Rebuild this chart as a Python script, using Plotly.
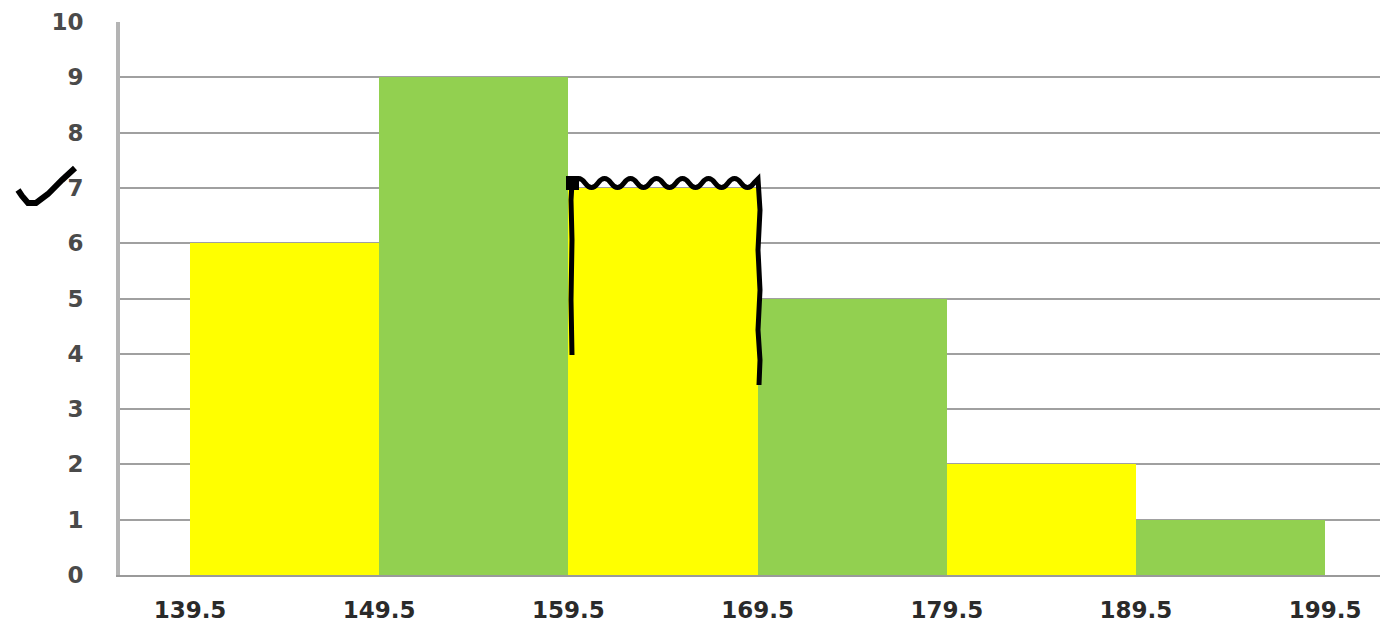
import plotly.graph_objects as go

# ---- data ----
bin_left = [139.5, 149.5, 159.5, 169.5, 179.5, 189.5]
counts = [6, 9, 7, 5, 2, 1]
bin_width = 10
tick_vals = [139.5, 149.5, 159.5, 169.5, 179.5, 189.5, 199.5]
tick_text = ["139.5", "149.5", "159.5", "169.5", "179.5", "189.5", "199.5"]
y_ticks = list(range(0, 11))

YELLOW = "#ffff00"
GREEN = "#92d050"
bar_colors = [YELLOW if i % 2 == 0 else GREEN for i in range(len(counts))]

W, H = 1393, 629
OFF = 8  # page body margin
# plot area in screen pixels
PL, PR, PT, PB = 120, 1380, 22, 575
ML, MT = PL - OFF, PT - OFF
MR = W - PR + OFF
MB = H - PB + OFF

fig = go.Figure()
fig.add_trace(go.Bar(
    x=bin_left, y=counts, width=bin_width, offset=0,
    marker=dict(color=bar_colors, line=dict(width=0)),
    hoverinfo="x+y",
))

# hand-drawn ink (screen pixels -> paper)
pw, ph = PR - PL, PB - PT
def P(px, py):
    return ((px - PL) / pw, (PB - py) / ph)

def fmt(px, py):
    x, y = P(px, py)
    return f"{x:.5f},{y:.5f}"

check_pts = [(18, 190), (22, 196), (28, 203), (36, 203), (48, 194), (62, 180), (75, 168)]
check_path = "M" + " L".join(fmt(*p) for p in check_pts)

# wavy outline around the 159.5 bar
outline = "M" + fmt(572, 355) + " L" + fmt(571, 300) + " L" + fmt(572, 240) + " L" + fmt(571, 200) + " L" + fmt(572, 183)
x = 572
up = True
while x < 745:
    cy = 183 + (-9 if up else 9)
    outline += " Q" + fmt(x + 6.5, cy) + " " + fmt(x + 13, 183)
    x += 13
    up = not up
outline += " L" + fmt(758, 179)
for p in [(760, 210), (758, 250), (760, 290), (758, 330), (760, 360), (759, 385)]:
    outline += " L" + fmt(*p)

shapes = [
    dict(type="path", xref="paper", yref="paper", path=check_path,
         line=dict(color="black", width=6)),
    dict(type="path", xref="paper", yref="paper", path=outline,
         line=dict(color="black", width=5)),
]
x0, y0 = P(566, 176)
x1, y1 = P(579, 190)
shapes.append(dict(type="rect", xref="paper", yref="paper", x0=x0, y0=y1, x1=x1, y1=y0,
                   fillcolor="black", line=dict(width=0)))

fig.update_layout(
    width=W, height=H,
    margin=dict(l=ML, r=MR, t=MT, b=MB, autoexpand=False),
    paper_bgcolor="white", plot_bgcolor="white",
    showlegend=False, bargap=0,
    shapes=shapes,
    xaxis=dict(
        range=[135.8, 202.4], tickvals=tick_vals, ticktext=tick_text,
        showgrid=False, zeroline=False, ticks="", automargin=False,
        showline=True, linecolor="#9a9a9a", linewidth=2,
        tickfont=dict(family="DejaVu Sans, Arial", size=23, color="#2a2a2a", weight="bold"),
        ticklabelstandoff=13,
    ),
    yaxis=dict(
        range=[0, 10], tickvals=y_ticks, ticktext=[str(v) for v in y_ticks],
        showgrid=True, gridcolor="#a0a0a0", gridwidth=2,
        zeroline=False, ticks="", automargin=False,
        showline=True, linecolor="#b4b4b4", linewidth=4, mirror=False,
        tickfont=dict(family="DejaVu Sans, Arial", size=23, color="#4a4a4a", weight="bold"),
        ticklabelstandoff=28,
    ),
)
fig.write_html("out.html")
